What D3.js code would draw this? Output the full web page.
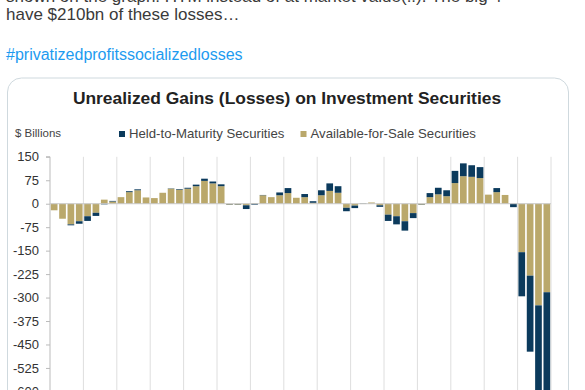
<!DOCTYPE html>
<html>
<head>
<meta charset="utf-8">
<script src="https://cdn.jsdelivr.net/npm/d3@7"></script>
<style>
  html, body { margin: 0; padding: 0; background: #ffffff; overflow: hidden; }
  svg { display: block; }
</style>
</head>
<body>
<svg id="chart" width="585" height="390"></svg>
<script>
// ---- Data (2008 Q1 – 2022 Q4, $ billions) ----
const years = d3.range(2008, 2023);
const quarters = years.flatMap(y => [1, 2, 3, 4].map(q => `${y} Q${q}`));
const afsValues = [
  -21, -48, -66, -56, -40, -29, 13, 7, 21, 37, 43, 20, 18, 35, 48, 45,
  48, 56, 73, 65, 56, -3, -3, -5, 2, 27, 21, 27, 34, 19, 21, 3,
  27, 41, 35, -13, -6, -1, 4, -5, -35, -40, -56, -30, -3, 21,
  30, 24, 66, 88, 86, 82, 29, 37, 28, 0, -155, -230, -325, -283
];
const htmValues = [
  0, 0, -3, -8, -15, -10, -2, 2, 0, 3, 3, 0, 0, 0, 1, 2,
  3, 5, 7, 6, 6, -1, -1, -12, -3, 1, 0, 9, 16, 0, 10, 5,
  16, 24, 21, -11, -8, 1, 0, -5, -20, -26, -30, -16, -1, 13,
  21, 19, 39, 41, 37, 35, 0, 13, 0, -11, -141, -243, -365, -340
];
const yTicks = [150, 75, 0, -75, -150, -225, -300, -375, -450, -525, -600];
const seriesNames = ["Held-to-Maturity Securities", "Available-for-Sale Securities"];

// ---- Setup ----
const svg = d3.select("#chart");
const colors = { htm: "#0b3a5c", afs: "#baa86b" };

// Tweet text
const tweetFont = "'Liberation Sans', Arial, sans-serif";
svg.append("text").attr("x", 6).attr("y", 1.5)
  .attr("font-family", tweetFont).attr("font-size", 17).attr("fill", "#3a3a3a")
  .text("shown on the graph: HTM instead of at market value(!!). The big 4");
svg.append("text").attr("x", 6).attr("y", 19.5)
  .attr("font-family", tweetFont).attr("font-size", 17).attr("fill", "#3a3a3a")
  .text("have $210bn of these losses…");
svg.append("text").attr("x", 6).attr("y", 60)
  .attr("font-family", tweetFont).attr("font-size", 16).attr("fill", "#1d9bf0")
  .text("#privatizedprofitssocializedlosses");

// Card
svg.append("rect").attr("x", 7.5).attr("y", 78).attr("width", 561).attr("height", 400)
  .attr("rx", 14).attr("fill", "#fff").attr("stroke", "#cfd9de");

const chartFont = "'Liberation Sans', Arial, sans-serif";

// Title
svg.append("text").attr("x", 287).attr("y", 104).attr("text-anchor", "middle")
  .attr("font-family", chartFont).attr("font-weight", "bold").attr("font-size", 17.4)
  .attr("fill", "#222").text("Unrealized Gains (Losses) on Investment Securities");

svg.append("text").attr("x", 15).attr("y", 137)
  .attr("font-family", "'Liberation Sans Narrow', " + chartFont).attr("font-size", 11.5)
  .attr("fill", "#444").text("$ Billions");

// Legend
const legend = [
  { name: seriesNames[0], color: colors.htm, x: 119 },
  { name: seriesNames[1], color: colors.afs, x: 300.5 }
];
legend.forEach(l => {
  svg.append("rect").attr("x", l.x).attr("y", 131).attr("width", 6).attr("height", 6).attr("fill", l.color);
  svg.append("text").attr("x", l.x + 10).attr("y", 137.5)
    .attr("font-family", chartFont).attr("font-size", 13.2).attr("fill", "#444").text(l.name);
});

// Scales
const x = d3.scaleBand().domain(quarters).range([50, 551]).paddingInner(0.2).paddingOuter(0.1);
const y = d3.scaleLinear().domain([-600, 150]).range([391.4, 156.8]);

// Year grid lines
const yearStep = (551 - 50) / years.length;
const gridX = years.map((yr, i) => 50 + (i + 1) * yearStep);
svg.append("g").selectAll("line").data(gridX).join("line")
  .attr("x1", d => d).attr("x2", d => d)
  .attr("y1", y(150)).attr("y2", 395)
  .attr("stroke", "#dedede").attr("stroke-width", 1);

// Y axis
const yAxis = d3.axisLeft(y).tickValues(yTicks).tickSize(4).tickPadding(7).tickFormat(d => String(d));
const gy = svg.append("g").attr("transform", "translate(50,0)").call(yAxis);
gy.select(".domain").attr("stroke", "#bbb").attr("d", `M-4,${y(150)}H0V400`);
gy.selectAll(".tick line").attr("stroke", "#bbb");
gy.selectAll(".tick text").attr("font-family", chartFont).attr("font-size", 13).attr("fill", "#333");

// Stacked bars
const table = quarters.map((q, i) => ({ q, afs: afsValues[i], htm: htmValues[i] }));
const stack = d3.stack().keys(["afs", "htm"]).offset(d3.stackOffsetDiverging);
const stacked = stack(table);
svg.append("g").selectAll("g").data(stacked).join("g")
  .attr("fill", d => colors[d.key])
  .selectAll("rect").data(d => d).join("rect")
  .attr("x", d => x(d.data.q))
  .attr("width", x.bandwidth())
  .attr("y", d => y(Math.max(d[0], d[1])))
  .attr("height", d => Math.abs(y(d[0]) - y(d[1])));

// Zero line
svg.append("line").attr("x1", 50).attr("x2", 551).attr("y1", y(0)).attr("y2", y(0))
  .attr("stroke", "#c8c8c8").attr("stroke-width", 1);
</script>
</body>
</html>
